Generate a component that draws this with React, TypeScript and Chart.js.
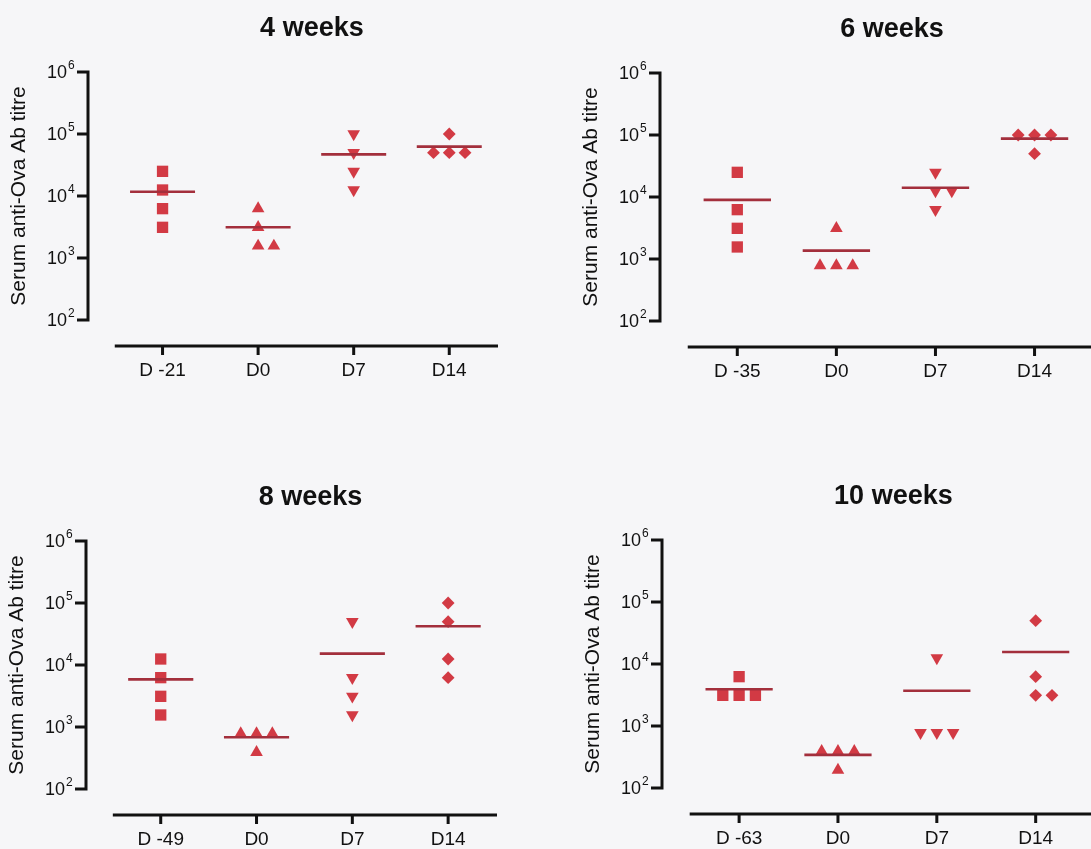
import React, { useEffect, useRef } from "react";
import { Chart, registerables } from "chart.js";

Chart.register(...registerables);
Chart.defaults.font.family = '"Liberation Sans", Arial, Helvetica, sans-serif';
Chart.defaults.color = "#111111";

// ---- text ----
const panelTitles = ["4 weeks", "6 weeks", "8 weeks", "10 weeks"];
const baselineLabels = ["D -21", "D -35", "D -49", "D -63"];
const laterLabels = ["D0", "D7", "D14"];
const yTickValues = [100, 1000, 10000, 100000, 1000000];
const yTickBase = "10";
const yTickExponents = ["2", "3", "4", "5", "6"];
const axisTitle = "Serum anti-Ova Ab titre";

// ---- titres per mouse (one array per sampling day) ----
const week4Baseline = [25000, 12500, 6250, 3125];
const week4D0 = [6250, 3125, 1563, 1563];
const week4D7 = [100000, 50000, 25000, 12500];
const week4D14 = [100000, 50000, 50000, 50000];

const week6Baseline = [25000, 6250, 3125, 1563];
const week6D0 = [3125, 781, 781, 781];
const week6D7 = [25000, 12500, 12500, 6250];
const week6D14 = [100000, 100000, 100000, 50000];

const week8Baseline = [12500, 6250, 3125, 1563];
const week8D0 = [781, 781, 781, 391];
const week8D7 = [50000, 6250, 3125, 1563];
const week8D14 = [100000, 50000, 12500, 6250];

const week10Baseline = [6250, 3125, 3125, 3125];
const week10D0 = [391, 391, 391, 195];
const week10D7 = [12500, 781, 781, 781];
const week10D14 = [50000, 6250, 3125, 3125];

const panelValues = [
  [week4Baseline, week4D0, week4D7, week4D14],
  [week6Baseline, week6D0, week6D7, week6D14],
  [week8Baseline, week8D0, week8D7, week8D14],
  [week10Baseline, week10D0, week10D7, week10D14],
];

// ---- styling / layout ----
const MARKER = "#d23a44";
const MEAN_LINE = "#a32f3c";
const INK = "#111111";
const FONT = '"Liberation Sans", Arial, sans-serif';
const groupStyles: { style: any; rotation: number; radius: number }[] = [
  { style: "rect", rotation: 0, radius: 8 },
  { style: "triangle", rotation: 0, radius: 7.3 },
  { style: "triangle", rotation: 180, radius: 7.3 },
  { style: "rectRot", rotation: 0, radius: 6.4 },
];

const PAD_TOP = 66;
const PLOT_H = 248; // four decades
const X_AXIS_H = 70;
const Y_AXIS_W = 88;
const X_MIN = -0.78;
const JITTER = 0.165;
const MEAN_HALF = 0.34;

const frames = [
  { axisX: 88, top: 72, unit: 97.5, xMax: 3.51 },
  { axisX: 660, top: 73, unit: 101, xMax: 3.6 },
  { axisX: 86, top: 541, unit: 97.7, xMax: 3.51 },
  { axisX: 662, top: 540, unit: 100.7, xMax: 3.6 },
];

// horizontal slots for coincident values: centre, right, left, ...
function slots(values: number[]): number[] {
  const pattern = [0, 1, -1, 2, -2];
  const seen = new Map<number, number>();
  return values.map((v) => {
    const k = seen.get(v) ?? 0;
    seen.set(v, k + 1);
    return pattern[k] ?? 0;
  });
}

function mean(values: number[]): number {
  return values.reduce((a, b) => a + b, 0) / values.length;
}

function Panel({ index }: { index: number }) {
  const ref = useRef<HTMLCanvasElement | null>(null);
  const frame = frames[index];
  const width = Math.round(Y_AXIS_W + (frame.xMax - X_MIN) * frame.unit);
  const height = PAD_TOP + PLOT_H + X_AXIS_H;

  useEffect(() => {
    if (!ref.current) return;
    const groups = panelValues[index];
    const labels = [baselineLabels[index], ...laterLabels];
    const title = panelTitles[index];

    const markerSets = groups.map((vals, g) => {
      const off = slots(vals);
      return {
        type: "scatter" as const,
        data: vals.map((v, i) => ({ x: g + off[i] * JITTER, y: v })),
        pointStyle: groupStyles[g].style,
        pointRotation: groupStyles[g].rotation,
        pointRadius: groupStyles[g].radius,
        pointBackgroundColor: MARKER,
        pointBorderColor: MARKER,
        pointBorderWidth: 0,
        showLine: false,
        order: 2,
      };
    });

    const meanPoints: any[] = [];
    groups.forEach((vals, g) => {
      const m = mean(vals);
      meanPoints.push({ x: g - MEAN_HALF, y: m }, { x: g + MEAN_HALF, y: m }, { x: g + 0.5, y: null });
    });

    const axesPlugin = {
      id: "offsetAxes",
      afterDraw(chart: any) {
        const { ctx, chartArea, scales } = chart;
        const x = scales.x;
        const y = scales.y;
        ctx.save();
        ctx.strokeStyle = INK;
        ctx.lineWidth = 3;
        ctx.lineCap = "butt";
        const ax = chartArea.left;
        const yTop = y.getPixelForValue(yTickValues[yTickValues.length - 1]);
        const yBot = y.getPixelForValue(yTickValues[0]);
        ctx.beginPath();
        ctx.moveTo(ax, yTop - 1.5);
        ctx.lineTo(ax, yBot + 1.5);
        yTickValues.forEach((v) => {
          const py = y.getPixelForValue(v);
          ctx.moveTo(ax - 11, py);
          ctx.lineTo(ax, py);
        });
        ctx.stroke();

        // power-of-ten tick labels with raised exponents
        ctx.fillStyle = INK;
        ctx.textBaseline = "middle";
        yTickValues.forEach((v, i) => {
          const py = y.getPixelForValue(v);
          ctx.font = `18px ${FONT}`;
          ctx.textAlign = "right";
          ctx.fillText(yTickBase, ax - 21, py + 1);
          ctx.font = `12px ${FONT}`;
          ctx.textAlign = "left";
          ctx.fillText(yTickExponents[i], ax - 20, py - 6);
        });

        const baseY = chartArea.bottom + 26;
        ctx.beginPath();
        ctx.moveTo(x.getPixelForValue(-0.5), baseY);
        ctx.lineTo(chartArea.right, baseY);
        labels.forEach((_, i) => {
          const px = x.getPixelForValue(i);
          ctx.moveTo(px, baseY);
          ctx.lineTo(px, baseY + 9);
        });
        ctx.stroke();

        ctx.font = `bold 27px ${FONT}`;
        ctx.textAlign = "center";
        ctx.textBaseline = "middle";
        ctx.fillText(title, x.getPixelForValue(1.5) + 6, chartArea.top - 43);
        ctx.restore();
      },
    };

    const chart = new Chart(ref.current, {
      type: "scatter",
      data: {
        datasets: [
          ...markerSets,
          {
            type: "scatter" as const,
            data: meanPoints,
            showLine: true,
            spanGaps: false,
            borderColor: MEAN_LINE,
            borderWidth: 2.6,
            pointRadius: 0,
            order: 1,
          } as any,
        ],
      },
      options: {
        responsive: false,
        animation: false,
        devicePixelRatio: 1,
        events: [],
        layout: { padding: { top: PAD_TOP, left: 0, right: 0, bottom: 0 } },
        plugins: { legend: { display: false }, tooltip: { enabled: false }, title: { display: false } },
        scales: {
          x: {
            type: "linear",
            min: X_MIN,
            max: frame.xMax,
            grid: { display: false },
            border: { display: false },
            afterBuildTicks: (scale: any) => {
              scale.ticks = labels.map((_, i) => ({ value: i }));
            },
            afterFit: (scale: any) => {
              scale.height = X_AXIS_H;
            },
            ticks: {
              autoSkip: false,
              maxRotation: 0,
              padding: 31,
              color: INK,
              font: { size: 19 },
              callback: (v: any) => labels[Number(v)] ?? "",
            },
          },
          y: {
            type: "logarithmic",
            min: yTickValues[0],
            max: yTickValues[yTickValues.length - 1],
            grid: { display: false },
            border: { display: false },
            afterBuildTicks: (scale: any) => {
              scale.ticks = yTickValues.map((value) => ({ value }));
            },
            afterFit: (scale: any) => {
              scale.width = Y_AXIS_W;
            },
            ticks: { display: false },
            title: {
              display: true,
              text: axisTitle,
              color: INK,
              font: { size: 21 },
              padding: { top: 7, bottom: 0 },
            },
          },
        },
      },
      plugins: [axesPlugin],
    } as any);

    return () => chart.destroy();
  }, [index]);

  return (
    <canvas
      ref={ref}
      width={width}
      height={height}
      style={{
        position: "absolute",
        left: frame.axisX - Y_AXIS_W,
        top: frame.top - PAD_TOP,
        width,
        height,
      }}
    />
  );
}

export default function App() {
  return (
    <div
      style={{
        position: "absolute",
        left: 0,
        top: 0,
        width: 1091,
        height: 849,
        overflow: "hidden",
        background: "#f6f6f8",
      }}
    >
      {panelTitles.map((_, i) => (
        <Panel key={i} index={i} />
      ))}
    </div>
  );
}
